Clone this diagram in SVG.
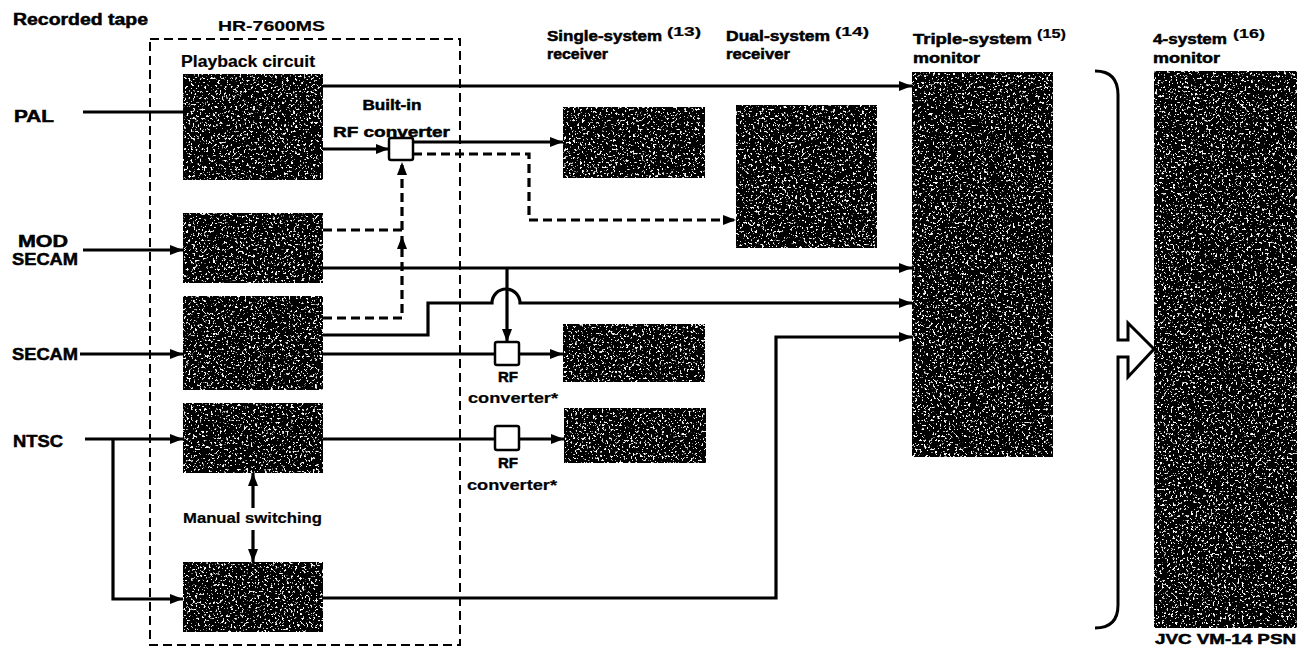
<svg xmlns="http://www.w3.org/2000/svg" width="1308" height="648" viewBox="0 0 1308 648">
<style>
text{font-family:"Liberation Sans",Arial,sans-serif;fill:#000;font-weight:bold;stroke:#000;stroke-width:0.5;}
.n{stroke-width:0.2;}
.box{fill:#000;stroke:#000;stroke-width:2;filter:url(#grain);}
.sq{fill:#fff;stroke:#000;stroke-width:2.5;}
.c{fill:none;stroke:#000;stroke-width:3.2;}
.d{fill:none;stroke:#000;stroke-width:3.2;stroke-dasharray:9 5;}
.frame{fill:none;stroke:#000;stroke-width:2;stroke-dasharray:9 5;}
</style>
<defs>
<filter id="grain" x="0" y="0" width="100%" height="100%">
<feTurbulence type="fractalNoise" baseFrequency="0.45" numOctaves="2" seed="7" result="n"/>
<feColorMatrix in="n" type="matrix" values="0 0 0 0 1 0 0 0 0 1 0 0 0 0 1 12 0 0 0 -7.3" result="s"/>
<feComposite in="s" in2="SourceAlpha" operator="in" result="sc"/>
<feMerge><feMergeNode in="SourceGraphic"/><feMergeNode in="sc"/></feMerge>
</filter>
<marker id="arr" markerUnits="userSpaceOnUse" markerWidth="13" markerHeight="10" refX="13" refY="5" orient="auto">
<path d="M0,0 L13,5 L0,10 z" fill="#000"/>
</marker>
</defs>
<rect width="1308" height="648" fill="#fff"/>

<g id="titles">
<text x="13" y="25" font-size="16" textLength="135" lengthAdjust="spacingAndGlyphs">Recorded tape</text>
<text class="n" x="218" y="31" font-size="15" textLength="107" lengthAdjust="spacingAndGlyphs">HR-7600MS</text>
</g>

<g id="vcr-frame">
<rect class="frame" x="150" y="39" width="310" height="606"/>
<text class="n" x="181" y="67" font-size="16" textLength="134" lengthAdjust="spacingAndGlyphs">Playback circuit</text>
</g>

<g id="inputs">
<text x="14" y="122" font-size="16" textLength="40" lengthAdjust="spacingAndGlyphs">PAL</text>
<text x="18" y="247" font-size="16" textLength="50" lengthAdjust="spacingAndGlyphs">MOD</text>
<text x="12" y="265" font-size="16" textLength="66" lengthAdjust="spacingAndGlyphs">SECAM</text>
<text x="12" y="360" font-size="16" textLength="66" lengthAdjust="spacingAndGlyphs">SECAM</text>
<text x="13" y="447" font-size="16" textLength="50" lengthAdjust="spacingAndGlyphs">NTSC</text>
</g>

<g id="pal-circuit"><rect class="box" x="183" y="74" width="140" height="106" rx="3"/></g>
<g id="modsecam-circuit"><rect class="box" x="183" y="213" width="140" height="70" rx="3"/></g>
<g id="secam-circuit"><rect class="box" x="183" y="296" width="140" height="94" rx="3"/></g>
<g id="ntsc-circuit-1"><rect class="box" x="183" y="403" width="140" height="70" rx="3"/></g>
<g id="ntsc-circuit-2"><rect class="box" x="183" y="562" width="140" height="70" rx="3"/></g>

<g id="builtin-rf">
<rect class="sq" x="389" y="138" width="24" height="22" rx="2"/>
<text x="392" y="110" font-size="15" text-anchor="middle" textLength="59" lengthAdjust="spacingAndGlyphs">Built-in</text>
<text x="333" y="137" font-size="15" textLength="117" lengthAdjust="spacingAndGlyphs">RF converter</text>
</g>

<g id="rf-secam">
<rect class="sq" x="495" y="342" width="24" height="23" rx="2"/>
<text x="508" y="382" font-size="15" text-anchor="middle">RF</text>
<text class="n" x="468" y="403" font-size="14" textLength="90" lengthAdjust="spacingAndGlyphs">converter*</text>
</g>

<g id="rf-ntsc">
<rect class="sq" x="495" y="426" width="24" height="24" rx="2"/>
<text x="508" y="468" font-size="15" text-anchor="middle">RF</text>
<text class="n" x="467" y="490" font-size="14" textLength="90" lengthAdjust="spacingAndGlyphs">converter*</text>
</g>

<g id="manual-switching">
<text class="n" x="183" y="523" font-size="15" textLength="139" lengthAdjust="spacingAndGlyphs">Manual switching</text>
</g>

<g id="single-receiver">
<text x="547" y="41" font-size="15" textLength="115" lengthAdjust="spacingAndGlyphs">Single-system</text>
<text class="n" x="667" y="36" font-size="13" textLength="34" lengthAdjust="spacingAndGlyphs">(13)</text>
<text x="547" y="59" font-size="15" textLength="61" lengthAdjust="spacingAndGlyphs">receiver</text>
<rect class="box" x="563" y="107" width="142" height="71" rx="3"/>
</g>

<g id="dual-receiver">
<text x="726" y="41" font-size="15" textLength="104" lengthAdjust="spacingAndGlyphs">Dual-system</text>
<text class="n" x="835" y="36" font-size="13" textLength="34" lengthAdjust="spacingAndGlyphs">(14)</text>
<text x="726" y="59" font-size="15" textLength="64" lengthAdjust="spacingAndGlyphs">receiver</text>
<rect class="box" x="736" y="105" width="141" height="143" rx="3"/>
</g>

<g id="secam-receiver"><rect class="box" x="563" y="324" width="142" height="58" rx="3"/></g>
<g id="ntsc-receiver"><rect class="box" x="564" y="408" width="142" height="55" rx="3"/></g>

<g id="triple-monitor">
<text x="913" y="44" font-size="15" textLength="119" lengthAdjust="spacingAndGlyphs">Triple-system</text>
<text class="n" x="1037" y="38" font-size="13" textLength="29" lengthAdjust="spacingAndGlyphs">(15)</text>
<text x="913" y="63" font-size="15" textLength="67" lengthAdjust="spacingAndGlyphs">monitor</text>
<rect class="box" x="912" y="72" width="141" height="385" rx="2"/>
</g>

<g id="four-monitor">
<text x="1153" y="44" font-size="15" textLength="74" lengthAdjust="spacingAndGlyphs">4-system</text>
<text class="n" x="1233" y="38" font-size="13" textLength="32" lengthAdjust="spacingAndGlyphs">(16)</text>
<text x="1153" y="63" font-size="15" textLength="67" lengthAdjust="spacingAndGlyphs">monitor</text>
<rect class="box" x="1154" y="71" width="143" height="557" rx="2"/>
<text x="1155" y="644" font-size="15" textLength="141" lengthAdjust="spacingAndGlyphs">JVC VM-14 PSN</text>
</g>

<g id="connectors">
<path class="c" d="M83,112 H183"/>
<path class="c" d="M83,250 H183" marker-end="url(#arr)"/>
<path class="c" d="M80,354 H183" marker-end="url(#arr)"/>
<path class="c" d="M85,439 H183" marker-end="url(#arr)"/>
<path class="c" d="M113,439 V599 H183" marker-end="url(#arr)"/>
<path class="c" d="M323,86 H912" marker-end="url(#arr)"/>
<path class="c" d="M323,149 H389" marker-end="url(#arr)"/>
<path class="c" d="M413,142 H563" marker-end="url(#arr)"/>
<path class="d" d="M413,154 H529 V220 H736" marker-end="url(#arr)"/>
<path class="d" d="M323,230 H402"/>
<path class="d" d="M323,318 H402 V236" marker-end="url(#arr)"/>
<path class="d" d="M402,230 V162" marker-end="url(#arr)"/>
<path class="c" d="M323,268 H912" marker-end="url(#arr)"/>
<path class="c" d="M507,268 V342" marker-end="url(#arr)"/>
<path class="c" d="M323,335 H428 V303 H492 A14,14 0 0 1 520,303 H912" marker-end="url(#arr)"/>
<path class="c" d="M323,354 H495"/>
<path class="c" d="M519,354 H563" marker-end="url(#arr)"/>
<path class="c" d="M323,439 H495"/>
<path class="c" d="M519,439 H564" marker-end="url(#arr)"/>
<path class="c" d="M323,598 H776 V337 H912" marker-end="url(#arr)"/>
<path class="c" d="M253,508 V473" marker-end="url(#arr)"/>
<path class="c" d="M253,530 V562" marker-end="url(#arr)"/>
</g>

<g id="brace">
<path d="M1095,71 Q1118,71 1118,95 V340 H1128 V323 L1154,349 L1128,377 V357 H1118 V605 Q1118,628 1095,628" fill="none" stroke="#000" stroke-width="3" stroke-linejoin="miter"/>
</g>
</svg>
